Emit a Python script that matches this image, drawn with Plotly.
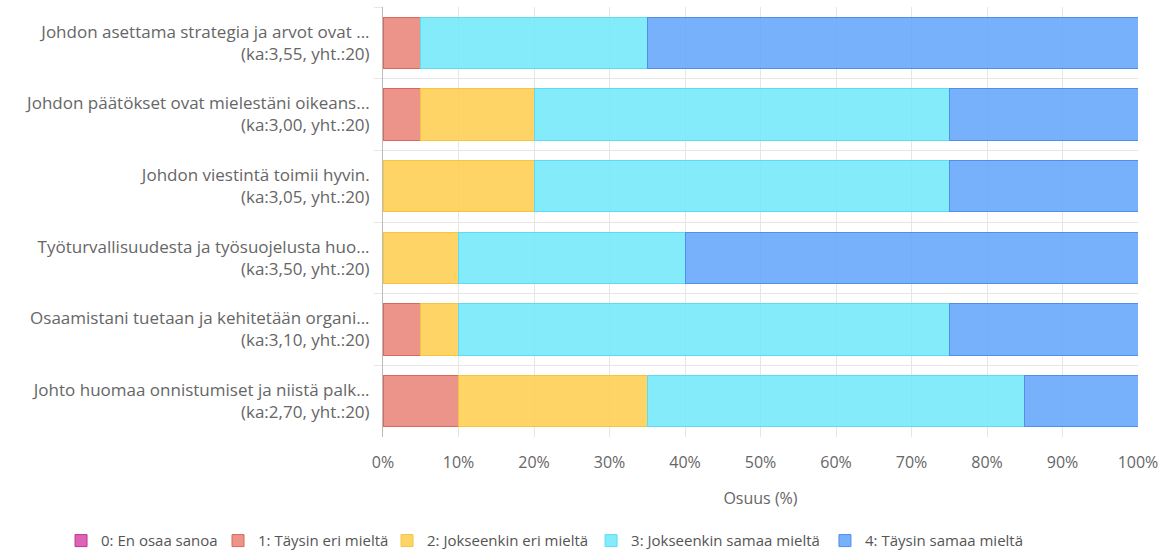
import plotly.graph_objects as go

questions = [
    "Johdon asettama strategia ja arvot ovat ...",
    "Johdon päätökset ovat mielestäni oikeans...",
    "Johdon viestintä toimii hyvin.",
    "Työturvallisuudesta ja työsuojelusta huo...",
    "Osaamistani tuetaan ja kehitetään organi...",
    "Johto huomaa onnistumiset ja niistä palk...",
]
means = ["3,55", "3,00", "3,05", "3,50", "3,10", "2,70"]
totals = [20, 20, 20, 20, 20, 20]

series_names = [
    "0: En osaa sanoa",
    "1: Täysin eri mieltä",
    "2: Jokseenkin eri mieltä",
    "3: Jokseenkin samaa mieltä",
    "4: Täysin samaa mieltä",
]
# share of answers (%) per question, one list per answer option
en_osaa = [0, 0, 0, 0, 0, 0]
taysin_eri = [5, 5, 0, 0, 5, 10]
jokseenkin_eri = [0, 15, 20, 10, 5, 25]
jokseenkin_samaa = [30, 55, 55, 30, 65, 50]
taysin_samaa = [65, 25, 25, 60, 25, 15]

fills = [
    "rgba(214,72,170,0.85)",
    "rgba(233,128,118,0.85)",
    "rgba(253,206,80,0.88)",
    "rgba(110,232,250,0.85)",
    "rgba(95,163,250,0.85)",
]
edges = ["#c2378f", "#d8695e", "#f5c440", "#5fdcf2", "#4f8fe8"]

# one single-entry legend per series, laid out along the bottom edge
legend_x = [0.0519, 0.1854, 0.3291, 0.5026, 0.7015]

labels = [
    f"{q}<br>(ka:{m}, yht.:{n})" for q, m, n in zip(questions, means, totals)
]

fig = go.Figure()
legend_layout = {}
for i, (name, vals, fc, ec, lx) in enumerate(
    zip(
        series_names,
        [en_osaa, taysin_eri, jokseenkin_eri, jokseenkin_samaa, taysin_samaa],
        fills,
        edges,
        legend_x,
    )
):
    key = "legend" if i == 0 else f"legend{i + 1}"
    fig.add_trace(
        go.Bar(
            y=labels,
            x=vals,
            name=name,
            orientation="h",
            marker=dict(color=fc, line=dict(color=ec, width=1)),
            legend=key,
        )
    )
    legend_layout[key] = dict(
        orientation="h",
        xref="container",
        yref="container",
        x=lx,
        xanchor="left",
        y=0.022,
        yanchor="middle",
        font=dict(family="Open Sans", size=15, color="#555555"),
        itemwidth=30,
        bgcolor="rgba(0,0,0,0)",
    )

fig.update_layout(
    barmode="stack",
    bargap=0.28,
    width=1176,
    height=553,
    paper_bgcolor="white",
    plot_bgcolor="white",
    margin=dict(l=383, r=38, t=7, b=116, autoexpand=False),
    font=dict(family="Open Sans", size=16, color="#666666"),
    showlegend=True,
    **legend_layout,
)
fig.update_xaxes(
    range=[0, 100],
    dtick=10,
    ticksuffix="%",
    showgrid=True,
    gridcolor="#e6e6e6",
    zeroline=False,
    showline=False,
    tickfont=dict(size=16, color="#666666"),
    title=dict(text="Osuus (%)", font=dict(size=16, color="#666666"), standoff=20),
    ticks="",
    ticklabelstandoff=14,
)
fig.update_yaxes(
    autorange="reversed",
    tickson="boundaries",
    showgrid=True,
    gridcolor="#e6e6e6",
    showline=True,
    linecolor="#bbbbbb",
    ticks="outside",
    ticklen=8,
    tickcolor="#e6e6e6",
    tickfont=dict(size=17, color="#666666"),
    ticklabelstandoff=9,
)

fig.write_html("out.html")
